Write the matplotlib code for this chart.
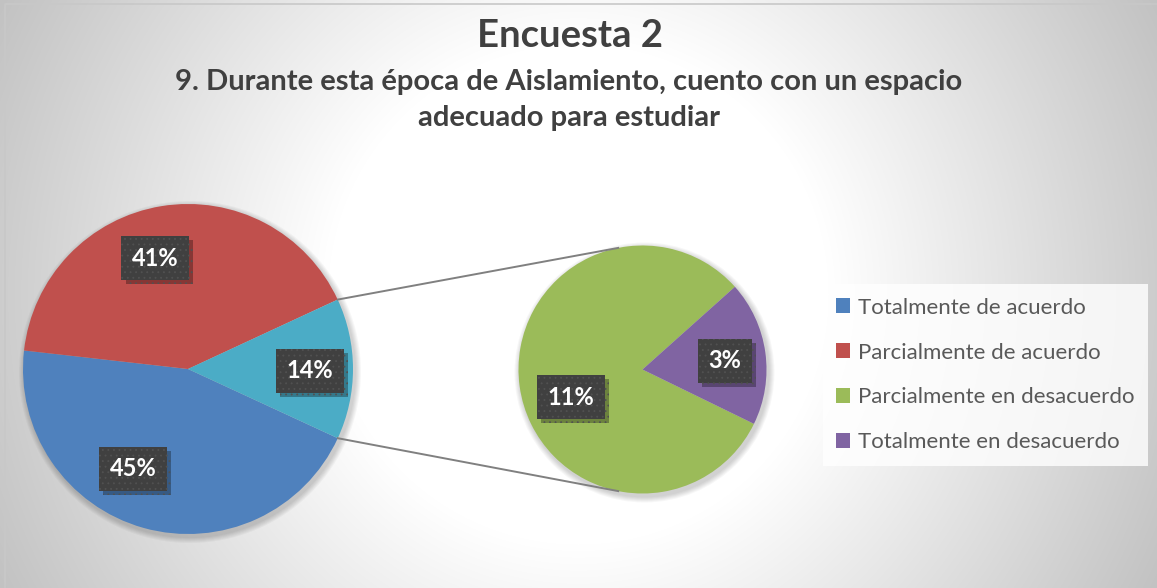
import numpy as np
import matplotlib.pyplot as plt
import matplotlib.patheffects as pe
from matplotlib.patches import Patch, Circle

plt.rcParams['font.family'] = ['Lato', 'DejaVu Sans']
plt.rcParams['hatch.linewidth'] = 0.6

categorias = ['Totalmente de acuerdo', 'Parcialmente de acuerdo',
              'Parcialmente en desacuerdo', 'Totalmente en desacuerdo']
valores = [44.9, 41.3, 11.2, 2.6]
colores = ['#4F81BD', '#C0504D', '#9BBB59', '#8064A2']
color_otros = '#4BACC6'

titulo = 'Encuesta 2'
subtitulo = '9. Durante esta época de Aislamiento, cuento con un espacio\nadecuado para estudiar'

principal = valores[:2] + [sum(valores[2:])]
secundario = valores[2:]
total = sum(valores)

W, H = 1157, 588
fig = plt.figure(figsize=(W / 100, H / 100), dpi=100)
ax = fig.add_axes([0, 0, 1, 1])

# fondo con degradado radial
yy, xx = np.mgrid[0:H, 0:W]
d = np.hypot(xx - 578, yy - 294)
v = 1 - 0.24 * np.clip((d - 250) / 400, 0, 1)
ax.imshow(np.dstack([v, v, v]), extent=(0, W, 0, H), zorder=0)

c1, r1 = (188, H - 369), 165
c2, r2 = (642.5, H - 369.5), 124

# sombras suaves de los pasteles
for c, r in [(c1, r1), (c2, r2)]:
    for k in range(6):
        ax.add_patch(Circle((c[0] + 2, c[1] - 3), r + 6 - k, color='black',
                            alpha=0.03, lw=0, zorder=1))

w1, _ = ax.pie(principal, colors=[colores[0], colores[1], color_otros],
               startangle=-24.8, counterclock=False, center=c1, radius=r1,
               wedgeprops=dict(linewidth=0, zorder=2))
w2, _ = ax.pie(secundario, colors=colores[2:], startangle=-26,
               counterclock=False, center=c2, radius=r2,
               wedgeprops=dict(linewidth=0, zorder=2))

# lineas de conexion
otros = w1[2]
for a1, a2 in [(otros.theta2, 101.3), (otros.theta1, -101.3)]:
    p1 = (c1[0] + r1 * np.cos(np.radians(a1)), c1[1] + r1 * np.sin(np.radians(a1)))
    p2 = (c2[0] + r2 * np.cos(np.radians(a2)), c2[1] + r2 * np.sin(np.radians(a2)))
    ax.plot([p1[0], p2[0]], [p1[1], p2[1]], color='#808080', lw=1.4, zorder=3)

# etiquetas (angulo, fraccion del radio)
pos1 = [(241.3, 0.69), (106.4, 0.70), (-0.9, 0.74)]
pos2 = [(201, 0.62), (5.9, 0.67)]

def etiqueta(c, r, ang, f, val):
    x = c[0] + f * r * np.cos(np.radians(ang))
    y = c[1] + f * r * np.sin(np.radians(ang))
    t = ax.text(x, y, f'{val / total * 100:.0f}%', ha='center', va='center',
                fontsize=17, fontweight='bold', color='white', zorder=5,
                bbox=dict(boxstyle='square,pad=0.45', fc='#404040',
                          ec='#515151', lw=0, hatch='...'))
    t.get_bbox_patch().set_path_effects(
        [pe.SimplePatchShadow(offset=(3, -3), shadow_rgbFace='black', alpha=0.3),
         pe.Normal()])

for (a, f), val in zip(pos1, principal):
    etiqueta(c1, r1, a, f, val)
for (a, f), val in zip(pos2, secundario):
    etiqueta(c2, r2, a, f, val)

ax.text(570, H - 36, titulo, ha='center', va='center', fontsize=27.5,
        fontweight='bold', color='#404040')
ax.text(569, H - 100, subtitulo, ha='center', va='center', fontsize=21,
        fontweight='bold', color='#404040', linespacing=1.45)

handles = [Patch(facecolor=c, edgecolor='none') for c in colores]
leg = ax.legend(handles, categorias, loc='center left',
                bbox_to_anchor=(822.7 / W, (H - 375) / H), fontsize=16,
                labelcolor='#595959', frameon=True, fancybox=False,
                handlelength=0.65, handleheight=0.65, handletextpad=0.35,
                labelspacing=1.12, borderpad=0.6, borderaxespad=0)
leg.get_frame().set_facecolor((1, 1, 1, 0.35))
leg.get_frame().set_edgecolor('none')

# borde del grafico
ax.plot([5, 5, W + 5], [0, H - 4, H - 4], color='#c8c8c8', lw=1.2, zorder=6)

ax.set_xlim(0, W)
ax.set_ylim(0, H)
ax.set_aspect('auto')
ax.axis('off')

plt.savefig('out.png', dpi=100)
